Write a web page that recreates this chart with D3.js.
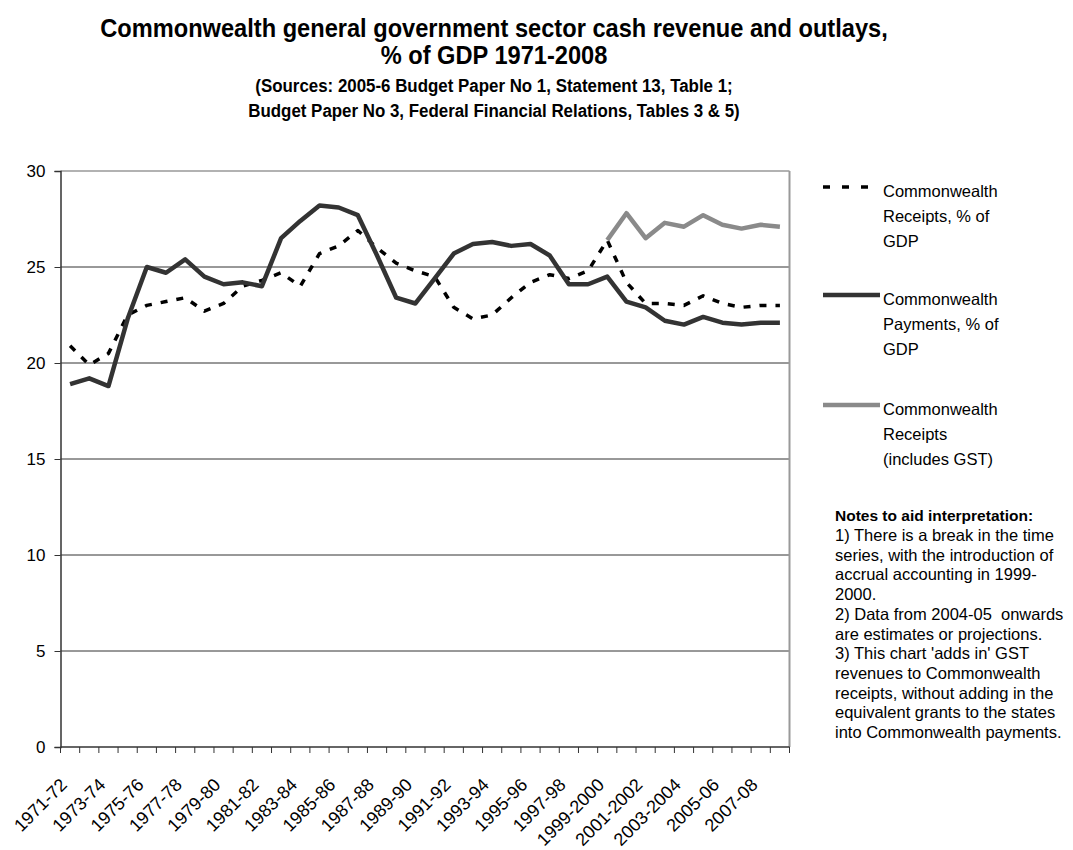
<!DOCTYPE html>
<html>
<head>
<meta charset="utf-8">
<title>Commonwealth revenue and outlays</title>
<script src="https://cdn.jsdelivr.net/npm/d3@7"></script>
<style>
  html, body { margin: 0; padding: 0; background: #fff; }
  text { font-family: "Liberation Sans", Arial, sans-serif; fill: #000; }
  .title { font-weight: bold; }
</style>
</head>
<body>
<svg id="chart" width="1073" height="850"></svg>
<script>
// categories (financial years)
var years = ["1971-72","1972-73","1973-74","1974-75","1975-76","1976-77","1977-78","1978-79",
  "1979-80","1980-81","1981-82","1982-83","1983-84","1984-85","1985-86","1986-87","1987-88",
  "1988-89","1989-90","1990-91","1991-92","1992-93","1993-94","1994-95","1995-96","1996-97",
  "1997-98","1998-99","1999-2000","2000-2001","2001-2002","2002-2003","2003-2004","2004-05",
  "2005-06","2006-07","2007-08","2008-09"];

// series, % of GDP
var receipts = [20.9,19.9,20.5,22.5,23.0,23.2,23.4,22.7,23.1,24.0,24.3,24.7,24.0,25.7,26.1,26.9,
  26.0,25.2,24.8,24.5,22.9,22.3,22.5,23.4,24.2,24.6,24.4,24.8,26.4,24.2,23.1,23.1,23.0,23.5,
  23.1,22.9,23.0,23.0];
var payments = [18.9,19.2,18.8,22.3,25.0,24.7,25.4,24.5,24.1,24.2,24.0,26.5,27.4,28.2,28.1,27.7,
  25.6,23.4,23.1,24.4,25.7,26.2,26.3,26.1,26.2,25.6,24.1,24.1,24.5,23.2,22.9,22.2,22.0,22.4,
  22.1,22.0,22.1,22.1];
var receiptsGST = [null,null,null,null,null,null,null,null,null,null,null,null,null,null,null,
  null,null,null,null,null,null,null,null,null,null,null,null,null,
  26.4,27.8,26.5,27.3,27.1,27.7,27.2,27.0,27.2,27.1];

var yTicks = [0,5,10,15,20,25,30];
var xLabels = years.filter(function(d, i) { return i % 2 === 0; });

var legendLabels = [
  ["Commonwealth", "Receipts, % of", "GDP"],
  ["Commonwealth", "Payments, % of", "GDP"],
  ["Commonwealth", "Receipts", "(includes GST)"]
];

var notes = [
  "1) There is a break in the time",
  "series, with the introduction of",
  "accrual accounting in 1999-",
  "2000.",
  "2) Data from 2004-05  onwards",
  "are estimates or projections.",
  "3) This chart 'adds in' GST",
  "revenues to Commonwealth",
  "receipts, without adding in the",
  "equivalent grants to the states",
  "into Commonwealth payments."
];

(function() {
  var svg = d3.select("#chart");

  var pl = 60.5, pr = 789.5, pt = 171, pb = 747;

  var x = d3.scaleBand().domain(years).range([pl, pr]);
  var y = d3.scaleLinear().domain([0, 30]).range([pb, pt]);

  // titles, squeezed horizontally like a narrow face
  var titleCx = 494;
  function squeezed(lines, size, fitWidth, fitIndex) {
    var g = svg.append("g");
    var t = g.selectAll("text").data(lines).enter().append("text")
      .attr("class", "title")
      .attr("text-anchor", "middle")
      .attr("font-size", size)
      .text(function(d) { return d.t; });
    var w = t.nodes()[fitIndex].getComputedTextLength();
    var k = fitWidth / w;
    t.attr("transform", function(d) {
      return "translate(" + titleCx + "," + d.y + ") scale(" + k + ",1)";
    });
  }
  squeezed([
    { t: "Commonwealth general government sector cash revenue and outlays,", y: 37 },
    { t: "% of GDP 1971-2008", y: 64 }
  ], 26, 788, 0);
  squeezed([
    { t: "(Sources: 2005-6 Budget Paper No 1, Statement 13, Table 1;", y: 92 },
    { t: "Budget Paper No 3, Federal Financial Relations, Tables 3 & 5)", y: 117 }
  ], 17.5, 492, 1);

  // gridlines
  svg.append("g").selectAll("line").data(yTicks.filter(function(d) { return d > 0 && d < 30; }))
    .enter().append("line")
    .attr("x1", pl).attr("x2", pr)
    .attr("y1", function(d) { return y(d); }).attr("y2", function(d) { return y(d); })
    .attr("stroke", "#333").attr("stroke-width", 1);

  // plot frame: top and right in gray
  svg.append("line").attr("x1", pl).attr("x2", pr).attr("y1", pt).attr("y2", pt)
    .attr("stroke", "#999").attr("stroke-width", 1.5);
  svg.append("line").attr("x1", pr).attr("x2", pr).attr("y1", pt).attr("y2", pb)
    .attr("stroke", "#999").attr("stroke-width", 2);

  // y axis
  var yAxis = svg.append("g").attr("transform", "translate(" + pl + ",0)")
    .call(d3.axisLeft(y).tickValues(yTicks).tickSize(6).tickPadding(9));
  yAxis.select(".domain").attr("stroke", "#333").attr("stroke-width", 1.5);
  yAxis.selectAll(".tick line").attr("stroke", "#333");
  yAxis.selectAll(".tick text").attr("font-size", 17)
    .attr("font-family", "Liberation Sans, Arial, sans-serif").attr("fill", "#000");

  // x axis: ticks at band boundaries
  var bounds = d3.range(years.length + 1).map(function(i) { return pl + i * x.step(); });
  var xg = svg.append("g");
  xg.append("line").attr("x1", pl).attr("x2", pr).attr("y1", pb).attr("y2", pb)
    .attr("stroke", "#333").attr("stroke-width", 1.5);
  xg.selectAll("line.tk").data(bounds).enter().append("line").attr("class", "tk")
    .attr("x1", function(d) { return d; }).attr("x2", function(d) { return d; })
    .attr("y1", pb).attr("y2", pb + 6)
    .attr("stroke", "#333").attr("stroke-width", 1);
  xg.selectAll("text").data(xLabels).enter().append("text")
    .attr("transform", function(d) {
      var cx = x(d) + x.bandwidth() / 2 - 2;
      return "translate(" + cx + "," + (pb + 39) + ") rotate(-45)";
    })
    .attr("text-anchor", "end")
    .attr("font-size", 18)
    .text(function(d) { return d; });

  // lines
  function lineFor(vals) {
    return d3.line()
      .defined(function(d) { return d != null; })
      .x(function(d, i) { return x(years[i]) + x.bandwidth() / 2; })
      .y(function(d) { return y(d); })(vals);
  }
  var series = [
    { vals: receipts, color: "#000", width: 3.5, dash: "7,9" },
    { vals: payments, color: "#333", width: 4.5, dash: null },
    { vals: receiptsGST, color: "#8a8a8a", width: 4.5, dash: null }
  ];
  svg.append("g").selectAll("path").data(series).enter().append("path")
    .attr("d", function(d) { return lineFor(d.vals); })
    .attr("fill", "none")
    .attr("stroke", function(d) { return d.color; })
    .attr("stroke-width", function(d) { return d.width; })
    .attr("stroke-dasharray", function(d) { return d.dash; })
    .attr("stroke-linejoin", "round");

  // legend
  var legendY = [187, 295, 405];
  var lg = svg.append("g").selectAll("g").data(series).enter().append("g")
    .attr("transform", function(d, i) { return "translate(0," + legendY[i] + ")"; });
  lg.append("line")
    .attr("x1", 823).attr("x2", 880).attr("y1", 0).attr("y2", 0)
    .attr("stroke", function(d) { return d.color; })
    .attr("stroke-width", function(d) { return d.width; })
    .attr("stroke-dasharray", function(d) { return d.dash ? "7,12" : null; });
  lg.each(function(d, i) {
    d3.select(this).selectAll("text").data(legendLabels[i]).enter().append("text")
      .attr("x", 883)
      .attr("y", function(t, j) { return 10 + j * 25; })
      .attr("font-size", 16.5)
      .text(function(t) { return t; });
  });

  // notes
  var ng = svg.append("g");
  ng.append("text").attr("x", 835).attr("y", 521).attr("font-size", 15.5).attr("font-weight", "bold")
    .text("Notes to aid interpretation:");
  ng.selectAll("text.note").data(notes).enter().append("text").attr("class", "note")
    .attr("x", 835)
    .attr("y", function(d, i) { return 541 + i * 19.7; })
    .attr("font-size", 16.5)
    .style("white-space", "pre")
    .text(function(d) { return d; });
})();
</script>
</body>
</html>
